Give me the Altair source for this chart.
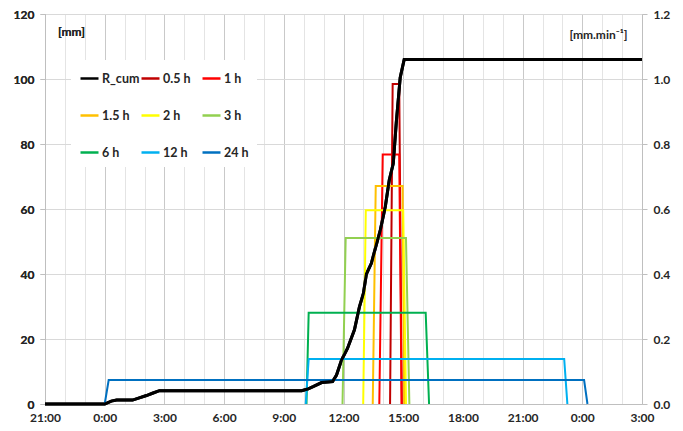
import altair as alt
import pandas as pd

# ---- data (time in hours from 0:00 of the event day; -3 = 21:00 previous day) ----
cum_time = [-3, 0, 0.33, 0.6, 1.4, 1.7, 2.1, 2.4, 2.75, 9.9, 10.2, 10.5, 10.9, 11.45,
            11.65, 11.9, 12.2, 12.55, 12.8, 13.0, 13.15, 13.4, 13.6, 13.85, 14.1, 14.3,
            14.5, 14.65, 14.85, 15.05, 27]
cum_mm = [0, 0, 0.9, 1.2, 1.2, 1.8, 2.6, 3.3, 4.1, 4.1, 4.6, 5.4, 6.6, 6.9,
          8.9, 13.5, 17.1, 22.8, 29.9, 34.0, 40.0, 43.3, 47.9, 53.5, 60.7, 68.9,
          74.0, 86.4, 100.5, 106.0, 106.0]

win_names = ["0.5 h", "1 h", "1.5 h", "2 h", "3 h", "6 h", "12 h", "24 h"]
win_intensity = [0.985, 0.768, 0.671, 0.596, 0.511, 0.281, 0.1385, 0.0735]
win_rise_start = [14.34, 13.80, 13.47, 12.99, 11.95, 10.14, 10.10, 0.00]
win_rise_end = [14.47, 13.97, 13.62, 13.12, 12.11, 10.25, 10.25, 0.20]
win_fall_start = [14.80, 14.80, 14.97, 15.00, 15.14, 16.13, 23.09, 24.09]
win_fall_end = [14.93, 14.92, 15.05, 15.14, 15.31, 16.30, 23.25, 24.26]

series_order = ["R_cum"] + win_names
series_colors = ["#000000", "#C00000", "#FF0000", "#FFC000", "#FFFF00",
                 "#92D050", "#00B050", "#00B0F0", "#0070C0"]

x_ticks = list(range(-3, 28))
left_ticks = [0, 20, 40, 60, 80, 100, 120]
right_ticks = [0, 0.2, 0.4, 0.6, 0.8, 1.0, 1.2]

# ---- tables ----
cum_df = pd.DataFrame({"t": cum_time, "v": cum_mm, "series": "R_cum"})
rows = []
for n, v, a, b, c, d in zip(win_names, win_intensity, win_rise_start,
                            win_rise_end, win_fall_start, win_fall_end):
    rows += [
        {"t": a, "v": 0.0, "series": n, "o": 0},
        {"t": b, "v": v, "series": n, "o": 1},
        {"t": c, "v": v, "series": n, "o": 2},
        {"t": d, "v": 0.0, "series": n, "o": 3},
    ]
win_df = pd.DataFrame(rows)

FONT = "Lato"
TXT = "#262626"

color = alt.Color(
    "series:N",
    scale=alt.Scale(domain=series_order, range=series_colors),
    legend=alt.Legend(
        title=None, orient="none", legendX=26, legendY=46, columns=3,
        direction="horizontal",
        gridAlign="all", columnPadding=-4, rowPadding=20,
        symbolType="stroke", symbolSize=324, symbolStrokeWidth=2.5,
        labelFont=FONT, labelFontWeight="bold", labelFontSize=12.5,
        labelColor=TXT, labelOffset=2, fillColor="white", padding=8,
    ),
)

x = alt.X(
    "t:Q",
    scale=alt.Scale(domain=[-3, 27], nice=False, zero=False),
    axis=alt.Axis(
        title=None, values=x_ticks, ticks=False,
        labelExpr="datum.value % 3 == 0 ? (((datum.value % 24) + 24) % 24) + ':00' : ''",
        grid=True,
        gridColor=alt.condition("datum.value % 3 == 0", alt.value("#c9c9c9"), alt.value("#e4e4e4")),
        gridWidth=1, domainColor="#bfbfbf", labelPadding=8, labelFlush=False,
    ),
)

win_layer = alt.Chart(win_df).mark_line(strokeWidth=2).encode(
    x=x,
    y=alt.Y(
        "v:Q",
        scale=alt.Scale(domain=[0, 1.2], nice=False),
        axis=alt.Axis(
            orient="right", values=right_ticks, format=".1f", grid=False,
            title="[mm.min\u207b\u00b9]", titleAngle=0, titleX=-44, titleY=20,
            titleAlign="center", titleBaseline="middle",
            domainColor="#bfbfbf", tickColor="#bfbfbf", tickSize=5, labelPadding=6,
        ),
    ),
    color=color,
    detail="series:N",
    order="o:Q",
)

cum_layer = alt.Chart(cum_df).mark_line(strokeWidth=3).encode(
    x=x,
    y=alt.Y(
        "v:Q",
        scale=alt.Scale(domain=[0, 120], nice=False),
        axis=alt.Axis(
            orient="left", values=left_ticks, grid=True, gridColor="#d9d9d9",
            title="[mm]", titleAngle=0, titleX=26, titleY=17,
            titleAlign="center", titleBaseline="middle",
            domainColor="#bfbfbf", tickColor="#bfbfbf", tickSize=5, labelPadding=6,
        ),
    ),
    color=color,
)

chart = (
    alt.layer(cum_layer, win_layer, cum_layer.encode())
    .resolve_scale(y="independent")
    .properties(
        width=597, height=390,
        autosize=alt.AutoSizeParams(type="none"),
        padding={"left": 37, "top": 6, "right": 31, "bottom": 24},
        background="white",
    )
    .configure_view(strokeWidth=0)
    .configure_axis(
        labelFont=FONT, labelFontWeight="bold", labelFontSize=12, labelColor=TXT,
        titleFont=FONT, titleFontWeight="bold", titleFontSize=12, titleColor=TXT,
    )
)

chart.save("out.html", embed_options={"renderer": "svg", "actions": False})
